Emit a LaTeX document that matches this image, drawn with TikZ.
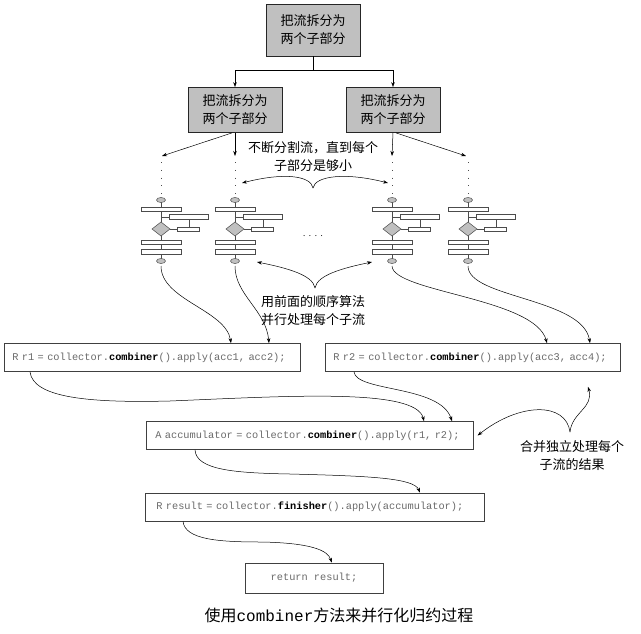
\documentclass[tikz,border=0pt]{standalone}
\usepackage{fontspec}
\setmainfont{Noto Sans CJK SC}
\setmonofont[WordSpace={1,0,0}]{Liberation Mono}
\usetikzlibrary{arrows.meta}
\definecolor{boxgray}{RGB}{192,192,192}
\definecolor{codegray}{RGB}{105,105,105}
\tikzset{
    splitbox/.style={draw=black!85,fill=boxgray,line width=0.8pt,minimum width=94pt,align=center,font=\fontsize{13}{18}\selectfont},
    codebox/.style={draw=black!75,line width=0.6pt,minimum height=28pt,inner xsep=8pt,inner ysep=0pt,align=left,anchor=west,text=codegray,font=\fontsize{10.3}{12}\ttfamily},
    note/.style={align=center,font=\fontsize{13}{18}\selectfont},
    arr/.style={-{Stealth[length=5pt,width=3.5pt]},line width=0.5pt},
    flowbox/.style={draw=black!70,fill=white,line width=0.5pt},
    dotline/.style={line width=0.8pt,black!70,dash pattern=on 0.8pt off 7pt},
}
\newcommand{\kw}[1]{\textcolor{black}{\textbf{#1}}}
\begin{document}
\begin{tikzpicture}[x=1pt,y=-1pt]
    \useasboundingbox (0,0) rectangle (641,633);
    \node[splitbox,minimum height=52pt] (split) at (313,30) {把流拆分为\\两个子部分};
    \node[splitbox,minimum height=45pt] (splitl) at (235,110) {把流拆分为\\两个子部分};
    \node[splitbox,minimum height=45pt] (splitr) at (393,110) {把流拆分为\\两个子部分};
    \draw[arr] (split.south) -- ++(0,14) -| (splitl.north);
    \draw[arr] (split.south) -- ++(0,14) -| (splitr.north);
    \coordinate (t1) at (162,156);
    \coordinate (t2) at (235,156);
    \coordinate (t3) at (392,156);
    \coordinate (t4) at (466,156);
    \draw[arr] ([xshift=-3pt]splitl.south) -- (t1);
    \draw[arr] (splitl.south) -- (t2);
    \draw[arr] (splitr.south) -- (t3);
    \draw[arr] ([xshift=3pt]splitr.south) -- (t4);
    \node[note] (splitnote) at (313,157) {不断分割流，直到每个\\子部分是够小};
    \foreach \cx [count=\i] in {161,235,392,468} {
        \draw[dotline] (\cx,162) -- (\cx,196);
        \draw[line width=0.5pt,black!70] (\cx,200) -- (\cx,261);
        \draw[line width=0.5pt,black!70] (\cx,217) -- (\cx+8,217) (\cx+28,219) -- (\cx+28,227) (\cx+9,229) -- (\cx+16,229);
        \draw[flowbox] (\cx-20,207.5) rectangle (\cx+20,211.5);
        \draw[flowbox] (\cx+8,214.5) rectangle (\cx+47,219);
        \draw[flowbox] (\cx+16,227) rectangle (\cx+38,231);
        \draw[flowbox] (\cx-20,240.5) rectangle (\cx+20,244.5);
        \draw[flowbox] (\cx-20,249.5) rectangle (\cx+20,254);
        \draw[flowbox,fill=boxgray] (\cx-9,229) -- (\cx,222) -- (\cx+9,229) -- (\cx,236) -- cycle;
        \draw[flowbox,fill=boxgray] (\cx,200) ellipse [x radius=4.5,y radius=2.5];
        \draw[flowbox,fill=boxgray] (\cx,261) ellipse [x radius=4.5,y radius=2.5];
        \coordinate (leaf\i) at (\cx,266);
    }
    \node[font=\fontsize{8}{8}\selectfont] (gap) at (313,236) {.\ \ .\ \ .\ \ .};
    \coordinate (b1) at (313,188);
    \draw[arr] (b1) .. controls (311,176) and (285,172) .. (242,183);
    \draw[arr] (b1) .. controls (315,176) and (345,172) .. (388,183);
    \node[note] (seqnote) at (313,310.5) {用前面的顺序算法\\并行处理每个子流};
    \coordinate (b2) at (315,288);
    \draw[arr] (b2) .. controls (313,275) and (287,268) .. (257,262);
    \draw[arr] (b2) .. controls (317,275) and (343,268) .. (372,262);
    \node[codebox,text width=280pt] (r1) at (4,357.5) {\mbox{R r1 = collector.\kw{combiner}().apply(acc1, acc2);}};
    \node[codebox,text width=279pt] (r2) at (325,357.5) {\mbox{R r2 = collector.\kw{combiner}().apply(acc3, acc4);}};
    \node[codebox,text width=309pt,inner xsep=9pt] (acc) at (146,435.5) {\mbox{A accumulator = collector.\kw{combiner}().apply(r1, r2);}};
    \node[codebox,text width=317pt,inner xsep=11pt] (result) at (145,507) {\mbox{R result = collector.\kw{finisher}().apply(accumulator);}};
    \node[codebox,anchor=center,align=center,minimum width=138pt,minimum height=30pt] (ret) at (314,578) {return result;};
    \draw[arr] (leaf1) .. controls (161,300) and (226,310) .. ([xshift=227pt]r1.north west);
    \draw[arr] (leaf2) .. controls (235,295) and (266,310) .. ([xshift=265pt]r1.north west);
    \draw[arr] (leaf3) .. controls (393,292) and (535,298) .. ([xshift=222pt]r2.north west);
    \draw[arr] (leaf4) .. controls (468,298) and (583,298) .. ([xshift=265pt]r2.north west);
    \draw[arr] ([xshift=26pt]r1.south west) .. controls (33,398) and (90,403) .. (170,401) .. controls (290,396) and (416,388) .. ([xshift=278pt]acc.north west);
    \draw[arr] ([xshift=29pt]r2.south west) .. controls (356,392) and (440,385) .. ([xshift=306pt]acc.north west);
    \node[note] (mergenote) at (572,456) {合并独立处理每个\\子流的结果};
    \coordinate (b3) at (570,432);
    \draw[arr] (b3) .. controls (572,412) and (594,408) .. ([xshift=263pt,yshift=-15pt]r2.south west);
    \draw[arr] (b3) .. controls (566,402) and (520,402) .. ([xshift=4pt]acc.east);
    \draw[arr] ([xshift=49pt]acc.south west) .. controls (196,470) and (235,473) .. (290,474) .. controls (370,476) and (414,478) .. ([xshift=275pt]result.north west);
    \draw[arr] ([xshift=38pt]result.south west) .. controls (185,540) and (220,542) .. (262,542) .. controls (310,543) and (328,550) .. ([xshift=87pt]ret.north west);
    \node[font=\fontsize{16}{18}\selectfont] (caption) at (339,615) {使用\texttt{combiner}方法来并行化归约过程};
\end{tikzpicture}
\end{document}
